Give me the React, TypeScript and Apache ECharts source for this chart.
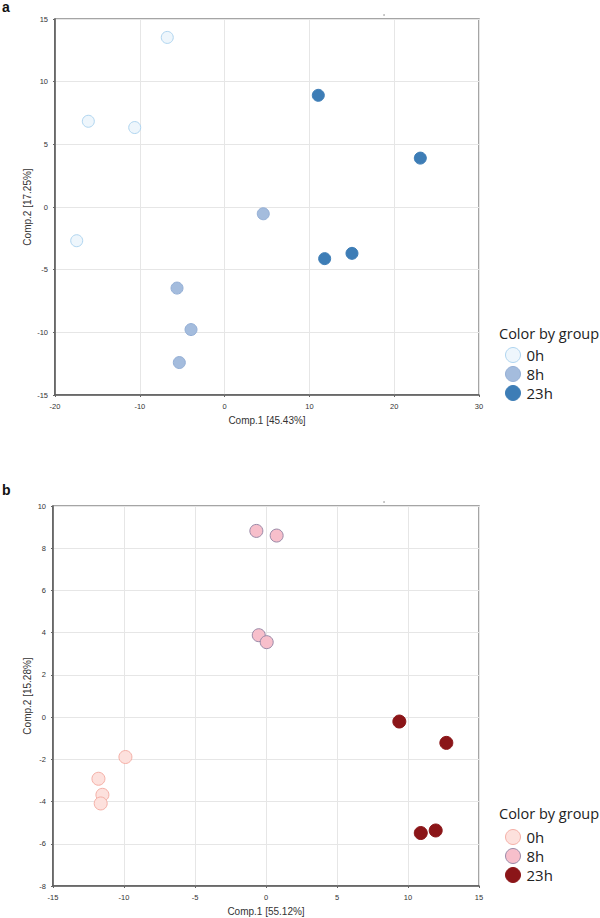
import React, { useEffect, useRef } from "react";
import * as echarts from "echarts";

// Panel a data: [Comp.1, Comp.2]
const a0h = [[-6.76, 13.53], [-16.07, 6.84], [-10.6, 6.34], [-17.44, -2.69]];
const a8h = [[4.56, -0.54], [-5.61, -6.47], [-3.96, -9.78], [-5.34, -12.41]];
const a23h = [[11.05, 8.91], [23.08, 3.9], [11.8, -4.12], [15.02, -3.7]];

// Panel b data
const b0h = [[-9.9, -1.89], [-11.8, -2.92], [-11.52, -3.68], [-11.64, -4.09]];
const b8h = [[-0.68, 8.82], [0.75, 8.6], [-0.51, 3.88], [0.05, 3.55]];
const b23h = [[9.39, -0.21], [12.7, -1.22], [10.9, -5.49], [11.95, -5.37]];

const groups = ["0h", "8h", "23h"];
const aXName = "Comp.1 [45.43%]";
const aYName = "Comp.2 [17.25%]";
const bXName = "Comp.1 [55.12%]";
const bYName = "Comp.2 [15.28%]";
const legendTitle = "Color by group";

const aStyles = [
  { color: "#eef6fc", borderColor: "#afd5f0", borderWidth: 1, opacity: 1 },
  { color: "#a4bcdd", borderColor: "#94afd6", borderWidth: 1, opacity: 1 },
  { color: "#3d7db6", borderColor: "#3d7db6", borderWidth: 1, opacity: 1 },
];
const bStyles = [
  { color: "#fde1dd", borderColor: "#f5b0a7", borderWidth: 1, opacity: 1 },
  { color: "#f7bfcb", borderColor: "#9a8aa8", borderWidth: 1, opacity: 1 },
  { color: "#8b1518", borderColor: "#8b1518", borderWidth: 1, opacity: 1 },
];

const FONT = "'Liberation Sans', Arial, sans-serif";
const LFONT = "'Open Sans', sans-serif";

export default function App() {
  const ref = useRef<HTMLDivElement>(null);
  useEffect(() => {
    if (!ref.current) return;
    const chart = echarts.init(ref.current, null, { renderer: "svg" });

    const axisCommon = (min: number, max: number, interval: number) => ({
      type: "value",
      min,
      max,
      interval,
      axisLine: { show: true, onZero: false, lineStyle: { color: "#555", width: 1.5 } },
      axisTick: { show: true, length: 2, lineStyle: { color: "#666" } },
      axisLabel: { fontSize: 7.5, color: "#333", fontFamily: FONT, margin: 7 },
      splitLine: { show: true, lineStyle: { color: "#e6e6e6", width: 1 } },
      nameLocation: "middle",
      nameMoveOverlap: false,
      nameTextStyle: { fontSize: 10, color: "#333", fontFamily: FONT },
    });

    const aData = [a0h, a8h, a23h];
    const bData = [b0h, b8h, b23h];

    const series: any[] = [];
    groups.forEach((g, i) => {
      series.push({
        type: "scatter",
        name: "a-" + g,
        xAxisIndex: 0,
        yAxisIndex: 0,
        symbol: "circle",
        symbolSize: 12,
        data: aData[i],
        itemStyle: aStyles[i],
      });
    });
    groups.forEach((g, i) => {
      series.push({
        type: "scatter",
        name: "b-" + g,
        xAxisIndex: 1,
        yAxisIndex: 1,
        symbol: "circle",
        symbolSize: 13,
        data: bData[i],
        itemStyle: bStyles[i],
      });
    });

    const legendCommon = {
      orient: "vertical",
      left: 500,
      icon: "circle",
      itemWidth: 15,
      itemHeight: 15,
      itemGap: 3,
      selectedMode: false,
      formatter: (n: string) => n.split("-")[1],
      textStyle: { fontSize: 15, color: "#222", fontFamily: LFONT, padding: [0, 0, 0, 1] },
    };

    chart.setOption({
      animation: false,
      backgroundColor: "#fff",
      grid: [
        { left: 55, top: 19, width: 424, height: 376, show: true, borderColor: "#888", borderWidth: 1.5 },
        { left: 53, top: 506, width: 426, height: 380, show: true, borderColor: "#888", borderWidth: 1.5 },
      ],
      xAxis: [
        { ...axisCommon(-20, 30, 10), gridIndex: 0, name: aXName, nameGap: 20 },
        { ...axisCommon(-15, 15, 5), gridIndex: 1, name: bXName, nameGap: 20 },
      ],
      yAxis: [
        { ...axisCommon(-15, 15, 5), gridIndex: 0, name: aYName, nameGap: 23 },
        { ...axisCommon(-8, 10, 2), gridIndex: 1, name: bYName, nameGap: 21 },
      ],
      legend: [
        {
          ...legendCommon,
          top: 342,
          data: groups.map((g, i) => ({ name: "a-" + g, itemStyle: aStyles[i] })),
        },
        {
          ...legendCommon,
          top: 824,
          data: groups.map((g, i) => ({ name: "b-" + g, itemStyle: bStyles[i] })),
        },
      ],
      graphic: [
        { type: "text", left: 2, top: 0, style: { text: "a", fontSize: 14, fontWeight: "bold", fill: "#111", fontFamily: FONT } },
        { type: "text", left: 2, top: 483, style: { text: "b", fontSize: 14, fontWeight: "bold", fill: "#111", fontFamily: FONT } },
        { type: "text", left: 499, top: 326, style: { text: legendTitle, fontSize: 14.5, fill: "#222", fontFamily: LFONT } },
        { type: "text", left: 499, top: 806, style: { text: legendTitle, fontSize: 14.5, fill: "#222", fontFamily: LFONT } },
        { type: "circle", shape: { cx: 384, cy: 15, r: 0.7 }, style: { fill: "#777" } },
        { type: "circle", shape: { cx: 384, cy: 502, r: 0.7 }, style: { fill: "#777" } },
      ],
      series,
    });
    return () => chart.dispose();
  }, []);
  return <div ref={ref} style={{ width: 600, height: 918, position: "absolute", left: 0, top: 0 }} />;
}
